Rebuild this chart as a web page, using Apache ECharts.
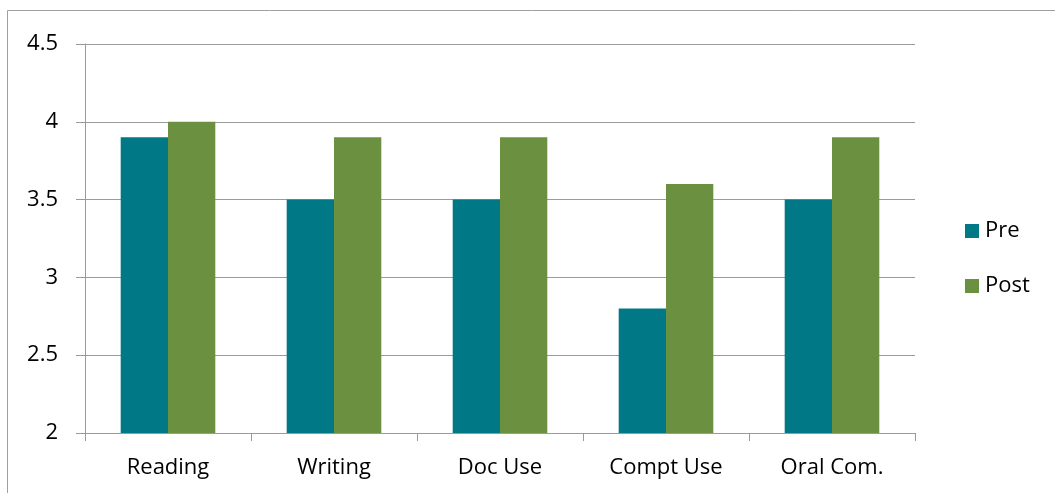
<!DOCTYPE html>
<html>
<head>
<meta charset="utf-8">
<script src="https://cdn.jsdelivr.net/npm/echarts@6/dist/echarts.min.js"></script>
<style>
  html, body { margin: 0; padding: 0; background: #fff; }
  #chart { width: 1055px; height: 493px; }
</style>
</head>
<body>
<div id="chart"></div>
<script>
// Skill ratings before and after the programme
const categories = ['Reading', 'Writing', 'Doc Use', 'Compt Use', 'Oral Com.'];
const preScores = [3.9, 3.5, 3.5, 2.8, 3.5];
const postScores = [4.0, 3.9, 3.9, 3.6, 3.9];
const seriesNames = ['Pre', 'Post'];

const FONT = '"Open Sans", "Liberation Sans", sans-serif';
const FONT_SIZE = 22;
const chart = echarts.init(document.getElementById('chart'), null, { renderer: 'canvas' });

chart.setOption({
  animation: false,
  backgroundColor: '#fff',
  textStyle: { fontFamily: FONT },
  graphic: [{
    type: 'rect',
    shape: { x: 7.5, y: 10.5, width: 1100, height: 600 },
    style: { fill: 'none', stroke: '#a0a0a0', lineWidth: 1 },
    silent: true
  }],
  legend: {
    orient: 'vertical',
    left: 965,
    top: 220,
    padding: 0,
    itemWidth: 14,
    itemHeight: 14,
    itemGap: 33,
    icon: 'rect',
    textStyle: { fontFamily: FONT, fontSize: FONT_SIZE, color: '#000', lineHeight: 14, padding: [0, 0, 0, 1] },
    data: seriesNames
  },
  grid: { left: 85, right: 140, top: 44, bottom: 60 },
  xAxis: {
    type: 'category',
    data: categories,
    axisLine: { lineStyle: { color: '#9a9a9a', width: 1 } },
    axisTick: { show: true, length: 8, inside: false, lineStyle: { color: '#9a9a9a' } },
    axisLabel: { color: '#000', fontSize: FONT_SIZE, fontFamily: FONT, margin: 24 }
  },
  yAxis: {
    type: 'value',
    min: 2,
    max: 4.5,
    interval: 0.5,
    axisLine: { show: true, lineStyle: { color: '#9a9a9a', width: 1 } },
    axisTick: { show: true, length: 9, lineStyle: { color: '#9a9a9a' } },
    splitLine: { show: true, lineStyle: { color: '#9a9a9a', width: 1 } },
    axisLabel: { color: '#000', fontSize: FONT_SIZE, fontFamily: FONT, margin: 27 }
  },
  series: [
    {
      name: seriesNames[0],
      type: 'bar',
      data: preScores,
      barGap: '0%',
      barCategoryGap: '43%',
      itemStyle: { color: '#007886' }
    },
    {
      name: seriesNames[1],
      type: 'bar',
      data: postScores,
      barGap: '0%',
      barCategoryGap: '43%',
      itemStyle: { color: '#6b9140' }
    }
  ]
});
</script>
</body>
</html>
